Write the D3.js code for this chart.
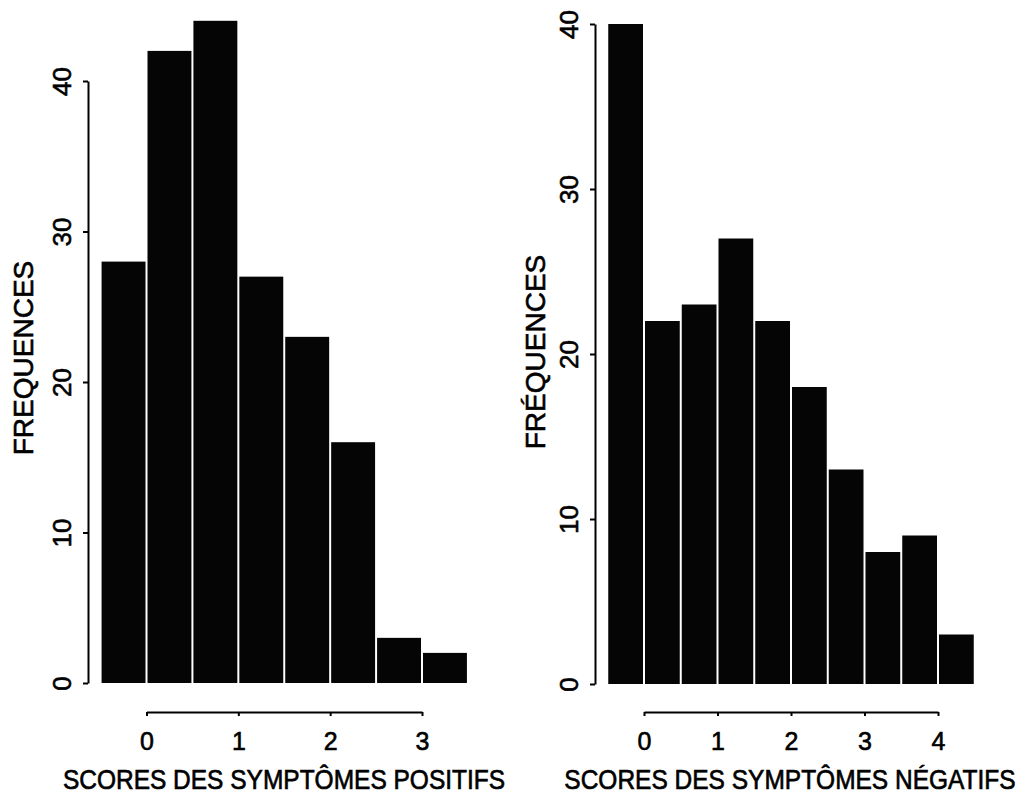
<!DOCTYPE html>
<html>
<head>
<meta charset="utf-8">
<script src="https://cdn.jsdelivr.net/npm/d3@7"></script>
<style>
body { margin:0; background:#fff; }
svg text { font-family: "Liberation Sans", Arial, Helvetica, sans-serif; fill:#000; stroke:#000; stroke-width:0.6px; }
</style>
</head>
<body>
<div id="chart"></div>
<script>

// 데이터 (histogram bins of width 0.5)
var posBins = [-0.5, 0, 0.5, 1, 1.5, 2, 2.5, 3];
var posFreq = [28, 42, 44, 27, 23, 16, 3, 2];
var posTicks = [0, 1, 2, 3];

var negBins = [-0.5, 0, 0.5, 1, 1.5, 2, 2.5, 3, 3.5, 4];
var negFreq = [40, 22, 23, 27, 22, 18, 13, 8, 9, 3];
var negTicks = [0, 1, 2, 3, 4];

var yTicks = [0, 10, 20, 30, 40];
var binWidth = 0.5;

var yLabels = ["FREQUENCES", "FRÉQUENCES"];
var xLabels = ["SCORES DES SYMPTÔMES POSITIFS", "SCORES DES SYMPTÔMES NÉGATIFS"];

var W = 1032, H = 796;

var svg = d3.select("#chart").append("svg")
    .attr("width", W)
    .attr("height", H);

// panel layout (pixel frame of each plot)
var panels = [
  {bins: posBins, freq: posFreq, ticks: posTicks, ylab: yLabels[0], xlab: xLabels[0],
   xDom: [0, 3], xRange: [146.5, 422], yRange: [683, 81], yAxisX: 88,
   ylabX: 33, ylabY: 358, titleX: 284},
  {bins: negBins, freq: negFreq, ticks: negTicks, ylab: yLabels[1], xlab: xLabels[1],
   xDom: [0, 4], xRange: [644, 938], yRange: [684, 24], yAxisX: 595,
   ylabX: 545, ylabY: 352, titleX: 790}
];

var xAxisY = 712;

panels.forEach(function(p){

  var x = d3.scaleLinear().domain(p.xDom).range(p.xRange);
  var y = d3.scaleLinear().domain([0, 40]).range(p.yRange);

  var g = svg.append("g").attr("class", "panel");

  // bars
  g.selectAll(".bar")
    .data(p.freq)
    .enter().append("rect")
    .attr("class", "bar")
    .attr("x", function(d, i){ return x(p.bins[i]) + 1; })
    .attr("width", function(d, i){ return x(p.bins[i] + binWidth) - x(p.bins[i]) - 2; })
    .attr("y", function(d){ return y(d); })
    .attr("height", function(d){ return y(0) - y(d); })
    .style("fill", "#050505");

  // y axis
  var yAxis = g.append("g")
    .attr("transform", "translate(" + p.yAxisX + ",0)")
    .call(d3.axisLeft(y).tickValues(yTicks).tickSize(5).tickSizeOuter(0));

  yAxis.selectAll("text")
    .attr("x", 0)
    .attr("dy", null)
    .attr("transform", "translate(-17,0) rotate(-90)")
    .attr("text-anchor", "middle")
    .style("font-size", "26px");

  // x axis
  var xAxis = g.append("g")
    .attr("transform", "translate(0," + xAxisY + ")")
    .call(d3.axisBottom(x).tickValues(p.ticks).tickFormat(d3.format("d")).tickSize(4).tickSizeOuter(0));

  xAxis.selectAll("text")
    .attr("y", 38)
    .attr("dy", null)
    .style("font-size", "25px");

  svg.selectAll(".domain, .tick line")
    .attr("stroke", "#000")
    .attr("stroke-width", 2);

  // axis titles
  g.append("text")
    .attr("transform", "translate(" + p.ylabX + "," + p.ylabY + ") rotate(-90)")
    .attr("text-anchor", "middle")
    .style("font-size", "28px")
    .text(p.ylab);

  // scan is a bit taller than wide, so stretch the titles vertically
  g.append("text")
    .attr("transform", "translate(" + p.titleX + ",789) scale(1,1.12)")
    .attr("text-anchor", "middle")
    .style("font-size", "24.5px")
    .text(p.xlab);
});

</script>
</body>
</html>
